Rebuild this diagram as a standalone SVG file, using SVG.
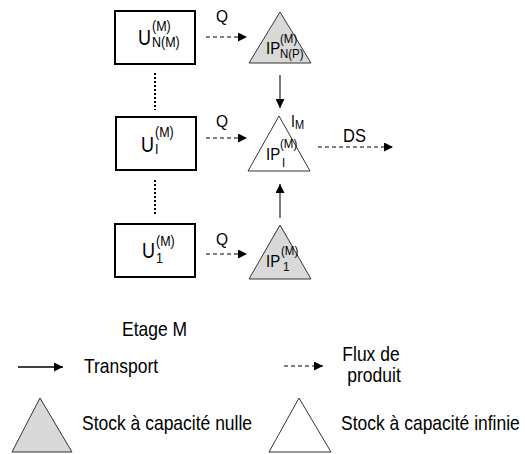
<svg xmlns="http://www.w3.org/2000/svg" width="525" height="454" viewBox="0 0 525 454">
<defs>
<style>
text{font-family:"Liberation Sans",Arial,sans-serif;fill:#000}
.box{fill:#fff;stroke:#000;stroke-width:2}
.tz{fill:#d9d9d9;stroke:#333;stroke-width:1}
.ti{fill:#fff;stroke:#333;stroke-width:1}
.dash{stroke:#000;stroke-width:1;stroke-dasharray:4,3;fill:none}
.solid{stroke:#333;stroke-width:1.3;fill:none}
.dot{stroke:#000;stroke-width:2;stroke-dasharray:2,2;fill:none}
.big{font-size:18px}
.sm{font-size:12.5px}
.ip{font-size:15px}
.ips{font-size:11.5px}
.lab{font-size:15.5px}
.leg{font-size:17.5px}
</style>
<marker id="ah" viewBox="0 0 10 10" refX="10" refY="5" markerWidth="10" markerHeight="9" markerUnits="userSpaceOnUse" orient="auto"><path d="M0,0L10,5L0,10z" fill="#000"/></marker>
</defs>

<g id="U_NM">
<rect class="box" x="115" y="11" width="80" height="53"/>
<text class="big" transform="translate(138,45) scale(1,1.2)">U</text>
<text class="sm" transform="translate(152,31) scale(1,1.15)">(M)</text>
<text class="sm" transform="translate(152,47) scale(1,1.15)">N(M)</text>
</g>
<g id="U_I">
<rect class="box" x="116" y="117" width="80" height="53"/>
<text class="big" transform="translate(141,152) scale(1,1.2)">U</text>
<text class="sm" transform="translate(155,137) scale(1,1.15)">(M)</text>
<text class="sm" transform="translate(155,154) scale(1,1.15)">I</text>
</g>
<g id="U_1">
<rect class="box" x="115" y="224" width="80" height="53"/>
<text class="big" transform="translate(142,258) scale(1,1.2)">U</text>
<text class="sm" transform="translate(156,246) scale(1,1.15)">(M)</text>
<text class="sm" transform="translate(156,263) scale(1,1.15)">1</text>
</g>

<g id="IP_NP">
<polygon class="tz" points="280,12 249,63 311,63"/>
<text class="ip" transform="translate(266,54) scale(1,1.15)">IP</text>
<text class="ips" transform="translate(280,43) scale(1,1.15)">(M)</text>
<text class="ips" transform="translate(280,58) scale(1,1.15)">N(P)</text>
</g>
<g id="IP_I">
<polygon class="ti" points="279,116 248,171 310,171"/>
<text class="ip" transform="translate(266,160) scale(1,1.15)">IP</text>
<text class="ips" transform="translate(280,148) scale(1,1.15)">(M)</text>
<text class="ips" transform="translate(282,167) scale(1,1.15)">I</text>
<text style="font-size:14px" transform="translate(291,127) scale(1,1.15)">I</text>
<text style="font-size:11px" transform="translate(295,129) scale(1,1.15)">M</text>
</g>
<g id="IP_1">
<polygon class="tz" points="280,225 249,279 311,279"/>
<text class="ip" transform="translate(266,267) scale(1,1.15)">IP</text>
<text class="ips" transform="translate(281,255) scale(1,1.15)">(M)</text>
<text class="ips" transform="translate(283,271) scale(1,1.15)">1</text>
</g>

<g id="connectors">
<line class="dash" x1="206" y1="37" x2="247" y2="37" marker-end="url(#ah)"/>
<line class="dash" x1="206" y1="138" x2="247" y2="138" marker-end="url(#ah)"/>
<line class="dash" x1="206" y1="254" x2="247" y2="254" marker-end="url(#ah)"/>
<line class="dash" x1="318" y1="147" x2="393" y2="147" marker-end="url(#ah)"/>
<line class="solid" x1="280" y1="75" x2="280" y2="108" marker-end="url(#ah)"/>
<line class="solid" x1="280" y1="218" x2="280" y2="184" marker-end="url(#ah)"/>
<line class="dot" x1="155" y1="73" x2="155" y2="110"/>
<line class="dot" x1="155" y1="180" x2="155" y2="216"/>
<text class="lab" transform="translate(216,22) scale(1,1.12)">Q</text>
<text class="lab" transform="translate(216,127) scale(1,1.12)">Q</text>
<text class="lab" transform="translate(216,245) scale(1,1.12)">Q</text>
<text style="font-size:16.5px" transform="translate(343,142) scale(1,1.12)">DS</text>
</g>

<g id="legend">
<text class="leg" transform="translate(122,336) scale(1,1.12)">Etage M</text>
<line stroke="#000" stroke-width="1.3" x1="18" y1="367" x2="63" y2="367" marker-end="url(#ah)"/>
<text class="leg" transform="translate(84,373) scale(1,1.12)">Transport</text>
<line class="dash" x1="284" y1="366" x2="323" y2="366" marker-end="url(#ah)"/>
<text class="leg" text-anchor="middle" transform="translate(371,361) scale(1,1.12)">Flux de</text>
<text class="leg" text-anchor="middle" transform="translate(374,382) scale(1,1.12)">produit</text>
<polygon class="tz" points="40,398 12,452 72,452"/>
<text class="leg" transform="translate(82,430) scale(1,1.12)">Stock à capacité nulle</text>
<polygon class="ti" points="299,398 269,452 331,452"/>
<text class="leg" transform="translate(341,430) scale(1,1.12)">Stock à capacité infinie</text>
</g>
</svg>
